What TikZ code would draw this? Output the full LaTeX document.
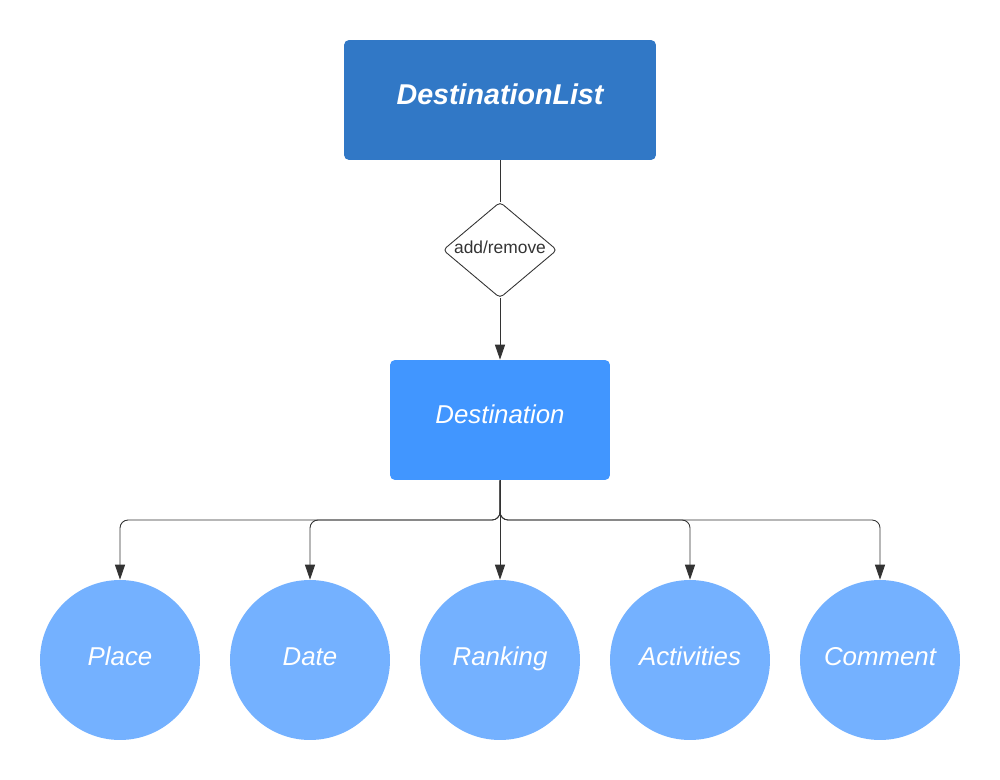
\documentclass[tikz,border=0pt]{standalone}
\usepackage{fontspec}
\setmainfont{Liberation Sans}
\usetikzlibrary{shapes.geometric, arrows.meta}

\definecolor{listblue}{RGB}{49,120,198}
\definecolor{destblue}{RGB}{65,150,255}
\definecolor{attrblue}{RGB}{116,177,255}
\definecolor{linegray}{RGB}{51,51,51}

\begin{document}
\begin{tikzpicture}[x=0.02cm, y=-0.02cm,
    box/.style={rectangle, rounded corners=0.1cm, text=white, text height=0.7em, text depth=0.3em,
                font=\itshape\fontsize{14.7}{16}\selectfont},
    attr/.style={circle, fill=attrblue, minimum size=3.2cm, inner sep=0pt, text=white,
                 text height=0.7em, text depth=0.1em, font=\itshape\fontsize{14.7}{16}\selectfont},
    link/.style={draw=linegray, line width=0.5pt},
    tip/.style={-{Triangle[width=5.7pt, length=8.5pt]}}]
\useasboundingbox (0, 0) rectangle (1000, 780);

% top and middle boxes
\node[box, fill=listblue, minimum width=6.24cm, minimum height=2.4cm, text depth=0.15em,
      font=\bfseries\itshape\fontsize{16.3}{18}\selectfont] (list) at (500, 100) {DestinationList};
\node[diamond, draw=linegray, line width=0.5pt, rounded corners=0.08cm, aspect=1.19, inner sep=0pt,
      minimum width=2.28cm, minimum height=1.92cm, font=\fontsize{9.9}{11}\selectfont,
      text height=0.75em, text depth=0.3em, text=linegray] (addremove) at (500, 250) {add/remove};
\node[box, fill=destblue, minimum width=4.4cm, minimum height=2.4cm] (dest) at (500, 420) {Destination};

\draw[link] (list.south) -- (addremove.north);
\draw[link, tip] (addremove.south) -- (dest.north);

% attributes
\node[attr] (place) at (120, 660) {Place};
\node[attr] (date) at (310, 660) {Date};
\node[attr] (ranking) at (500, 660) {Ranking};
\node[attr] (activities) at (690, 660) {Activities};
\node[attr] (comment) at (880, 660) {Comment};

\coordinate (split) at (500, 520);
\draw[link, tip] (dest.south) -- (ranking.north);
\foreach \n in {place, date, activities, comment}
  \draw[link, tip, rounded corners=0.16cm] (dest.south) -- (split) -| (\n.north);
\end{tikzpicture}
\end{document}
